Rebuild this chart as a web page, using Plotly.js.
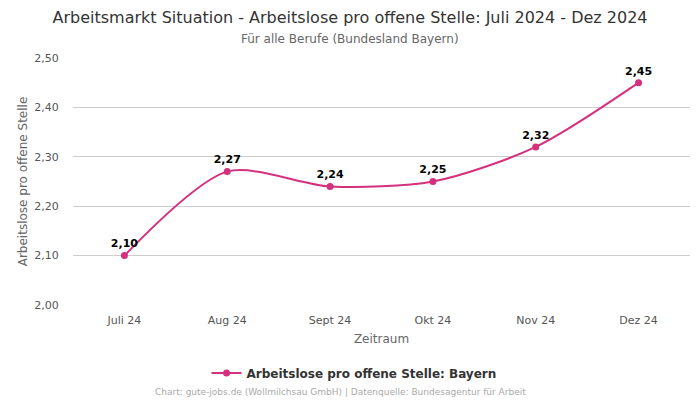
<!DOCTYPE html>
<html><head><meta charset="utf-8">
<script src="https://cdn.plot.ly/plotly-3.0.1.min.js"></script>
<style>body{margin:0;padding:0}#chart{width:700px;height:400px}</style>
</head><body><div id="chart"></div>
<script>
const categories = ["Juli 24","Aug 24","Sept 24","Okt 24","Nov 24","Dez 24"];
const values = [2.10, 2.27, 2.24, 2.25, 2.32, 2.45];
const tickVals = [2.0, 2.1, 2.2, 2.3, 2.4, 2.5];
const seriesName = "Arbeitslose pro offene Stelle: Bayern";
const lineColor = "#d5307e";
const fmt = v => v.toFixed(2).replace('.', ',');

const W = 700, H = 400, L = 73, R = 10, T = 58, B = 95, PH = H - T - B, PW = W - L - R;
const py = px => (H - B - px) / PH;
const pxX = px => (px - L) / PW;

const trace = {
  x: categories, y: values, type: 'scatter', mode: 'lines+markers+text',
  name: seriesName,
  line: {color: lineColor, width: 2, shape: 'spline', smoothing: 0.8},
  marker: {color: lineColor, size: 7},
  text: values.map(fmt), textposition: 'top center',
  textfont: {family: 'DejaVu Sans', size: 11, color: '#000', weight: 'bold'},
  cliponaxis: false,
  hoverinfo: 'none'
};
const layout = {
  width: W, height: H,
  margin: {l: L, r: R, t: T, b: B},
  paper_bgcolor: '#fff', plot_bgcolor: '#fff',
  separators: ',.',
  font: {family: 'DejaVu Sans', color: '#555'},
  title: {text: 'Arbeitsmarkt Situation - Arbeitslose pro offene Stelle: Juli 2024 - Dez 2024',
    x: 0.5, xanchor: 'center', y: 1 - 17/400, yanchor: 'middle', yref: 'container',
    font: {family: 'DejaVu Sans', size: 16, color: '#333'}},
  xaxis: {type: 'category', range: [-0.5, 5.5], showgrid: false, zeroline: false,
    showline: false, ticks: 'outside', ticklen: 5, tickcolor: 'rgba(0,0,0,0)',
    tickfont: {size: 11, color: '#555'},
    title: {text: 'Zeitraum', font: {size: 12, color: '#666'}, standoff: 8}},
  yaxis: {range: [2.0, 2.5], tickvals: tickVals, tickformat: '.2f',
    gridcolor: '#cccccc', gridwidth: 1, zeroline: false, showline: false,
    tickfont: {size: 11, color: '#555'}, ticks: 'outside', ticklen: 11, tickcolor: 'rgba(0,0,0,0)',
    title: {text: 'Arbeitslose pro offene Stelle', font: {size: 12, color: '#666'}, standoff: 4}},
  showlegend: true,
  legend: {orientation: 'h', x: pxX(354), xanchor: 'center', y: py(373), yanchor: 'middle',
    font: {size: 12, color: '#333', weight: 'bold'}},
  annotations: [
    {text: 'Für alle Berufe (Bundesland Bayern)', xref: 'paper', yref: 'paper',
     x: pxX(350), y: py(39), xanchor: 'center', yanchor: 'middle', showarrow: false,
     font: {size: 12, color: '#666'}},
    {text: 'Chart: gute-jobs.de (Wollmilchsau GmbH) | Datenquelle: Bundesagentur für Arbeit',
     xref: 'paper', yref: 'paper', x: pxX(340), y: py(392), xanchor: 'center', yanchor: 'middle',
     showarrow: false, font: {size: 9, color: '#aaa'}}
  ]
};
Plotly.newPlot('chart', [trace], layout, {displayModeBar: false, staticPlot: true});
</script></body></html>
